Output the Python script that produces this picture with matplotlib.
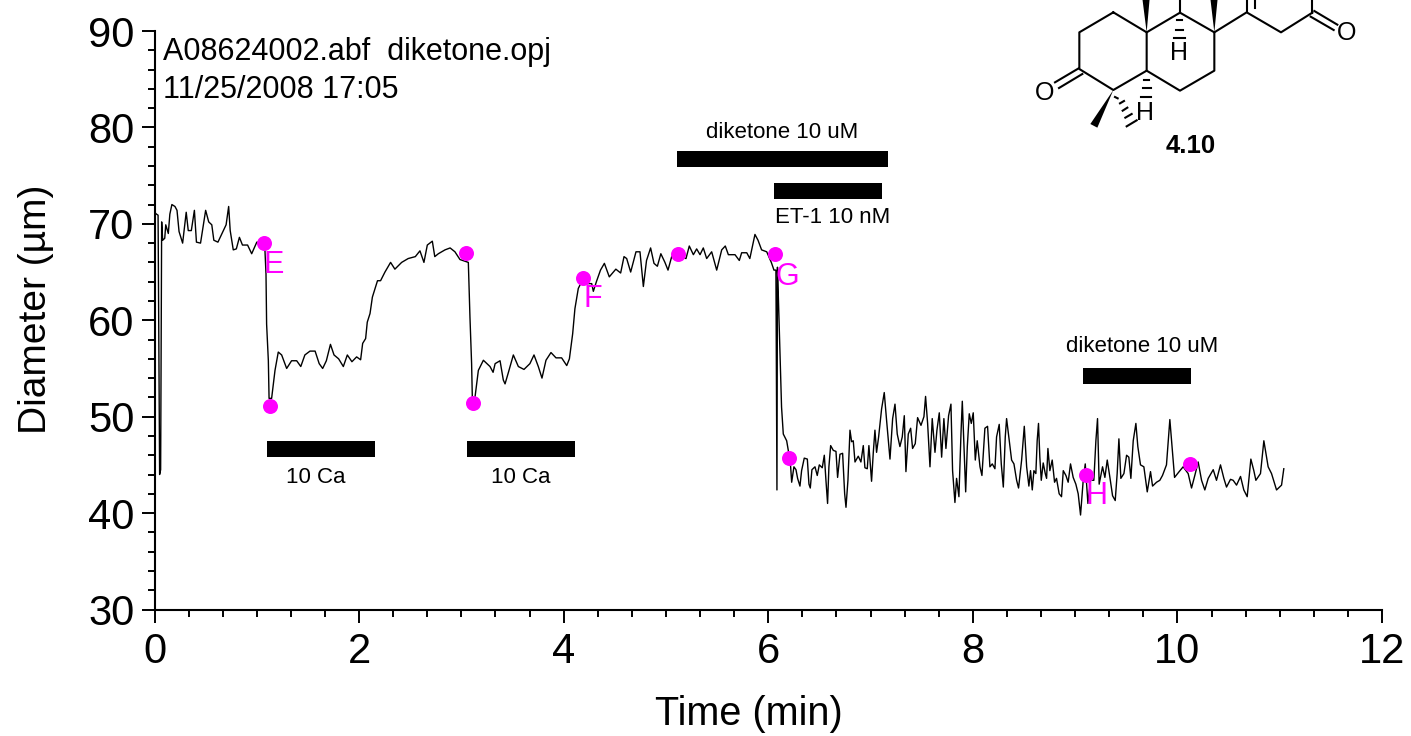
#!/usr/bin/env python3
"""Diameter trace of an artery segment with the drawn structure of compound 4.10."""

import matplotlib
matplotlib.use('Agg')
import matplotlib.pyplot as plt
from matplotlib.ticker import MultipleLocator
from matplotlib.patches import Polygon

plt.rcParams['font.family'] = ['Liberation Sans', 'DejaVu Sans']

time_min = [
    0.00, 0.02, 0.035, 0.05, 0.06, 0.07, 0.08, 0.10, 0.11, 0.135, 0.15, 0.17, 0.20, 0.22, 0.24, 0.275,
    0.31, 0.33, 0.36, 0.39, 0.41, 0.45, 0.50, 0.53, 0.56, 0.58, 0.62, 0.66, 0.70, 0.725, 0.74, 0.77,
    0.80, 0.83, 0.86, 0.91, 0.95, 1.00, 1.05, 1.08, 1.09, 1.096, 1.113, 1.12, 1.145, 1.178, 1.21, 1.243,
    1.292, 1.34, 1.39, 1.43, 1.47, 1.52, 1.57, 1.61, 1.644, 1.68, 1.72, 1.755, 1.80, 1.846, 1.885, 1.93,
    1.976, 2.015, 2.035, 2.064, 2.08, 2.107, 2.13, 2.18, 2.21, 2.253, 2.308, 2.35, 2.416, 2.48, 2.55, 2.595,
    2.634, 2.667, 2.716, 2.74, 2.775, 2.84, 2.89, 2.937, 2.986, 3.068, 3.084, 3.10, 3.107, 3.133, 3.166, 3.215,
    3.28, 3.31, 3.33, 3.378, 3.41, 3.427, 3.46, 3.508, 3.557, 3.612, 3.67, 3.71, 3.752, 3.788, 3.827, 3.876,
    3.925, 3.98, 4.03, 4.056, 4.088, 4.11, 4.143, 4.176, 4.225, 4.274, 4.29, 4.32, 4.36, 4.398, 4.446, 4.51,
    4.557, 4.59, 4.616, 4.655, 4.707, 4.746, 4.779, 4.81, 4.85, 4.883, 4.916, 4.95, 4.99, 5.02, 5.056, 5.137,
    5.196, 5.228, 5.268, 5.30, 5.333, 5.365, 5.398, 5.447, 5.496, 5.545, 5.58, 5.61, 5.675, 5.717, 5.74, 5.79,
    5.82, 5.87, 5.90, 5.935, 5.985, 6.03, 6.056, 6.075, 6.085, 6.09, 6.10, 6.13, 6.147, 6.18,
    6.196, 6.219, 6.229, 6.251, 6.271, 6.287, 6.31, 6.326, 6.352, 6.382, 6.398, 6.411, 6.427, 6.457, 6.479, 6.499,
    6.528, 6.548, 6.564, 6.58, 6.593, 6.61, 6.636, 6.662, 6.678, 6.701, 6.727, 6.747, 6.76, 6.779, 6.799, 6.815,
    6.831, 6.848, 6.88, 6.906, 6.929, 6.945, 6.968, 6.984, 7.01, 7.027, 7.043, 7.059, 7.079, 7.108, 7.134, 7.157,
    7.19, 7.216, 7.239, 7.261, 7.287, 7.31, 7.33, 7.346, 7.369, 7.392, 7.411, 7.437, 7.46, 7.493, 7.522, 7.538,
    7.558, 7.581, 7.603, 7.63, 7.649, 7.672, 7.695, 7.717, 7.737, 7.763, 7.786, 7.802, 7.825, 7.841, 7.864, 7.884,
    7.897, 7.913, 7.93, 7.946, 7.965, 7.985, 8.004, 8.024, 8.043, 8.07, 8.089, 8.118, 8.144, 8.167, 8.19, 8.216,
    8.232, 8.258, 8.278, 8.298, 8.317, 8.33, 8.356, 8.379, 8.402, 8.428, 8.447, 8.477, 8.503, 8.526, 8.548, 8.564,
    8.581, 8.597, 8.616, 8.629, 8.642, 8.655, 8.669, 8.688, 8.708, 8.721, 8.734, 8.753, 8.776, 8.799, 8.818, 8.844,
    8.867, 8.884, 8.91, 8.932, 8.955, 8.981, 9.007, 9.03, 9.053, 9.079, 9.099, 9.125, 9.151, 9.183, 9.203, 9.219,
    9.235, 9.268, 9.291, 9.314, 9.34, 9.366, 9.392, 9.411, 9.428, 9.447, 9.477, 9.503, 9.525, 9.545, 9.568, 9.594,
    9.613, 9.639, 9.672, 9.705, 9.737, 9.757, 9.796, 9.828, 9.854, 9.893, 9.926, 9.952, 9.972, 10.017, 10.056, 10.105,
    10.138, 10.17, 10.203, 10.236, 10.268, 10.301, 10.35, 10.382, 10.421, 10.454, 10.48, 10.519, 10.545, 10.578, 10.617, 10.649,
    10.682, 10.718, 10.747, 10.767, 10.812, 10.845, 10.887, 10.92, 10.969, 11.018, 11.04,
]

diameter_um = [
    71.2, 71.0, 70.9, 44.0, 44.5, 70.2, 68.3, 68.5, 69.9, 69.0, 71.0, 72.0, 71.8, 71.4, 69.2, 68.0,
    71.2, 69.3, 69.3, 71.4, 68.1, 68.0, 71.4, 70.2, 69.9, 68.3, 68.1, 69.0, 69.9, 71.8, 69.3, 67.3,
    67.4, 68.6, 67.8, 67.8, 66.9, 68.1, 68.1, 67.2, 64.8, 59.6, 55.8, 51.9, 51.9, 54.8, 56.7, 56.4,
    55.0, 55.8, 55.8, 55.2, 56.4, 56.8, 56.8, 55.5, 55.0, 55.8, 57.5, 56.4, 56.0, 55.2, 56.4, 55.7,
    56.2, 55.9, 57.6, 58.1, 59.8, 60.7, 62.4, 64.1, 64.1, 65.0, 66.0, 65.3, 66.0, 66.4, 66.6, 67.2,
    66.0, 67.8, 68.2, 66.6, 66.9, 67.3, 67.5, 67.1, 66.3, 66.0, 60.3, 55.5, 52.0, 52.0, 54.8, 55.85,
    55.2, 54.6, 55.5, 55.8, 53.8, 53.4, 54.6, 56.4, 55.2, 54.9, 55.5, 56.4, 55.2, 54.0, 55.85, 56.65,
    56.1, 56.1, 55.3, 56.0, 58.6, 61.2, 63.3, 64.0, 63.8, 63.8, 63.0, 64.0, 65.2, 65.9, 64.5, 65.3,
    64.9, 66.6, 66.4, 65.0, 67.1, 67.1, 63.5, 66.2, 67.5, 65.9, 65.6, 66.9, 66.0, 65.2, 66.6, 66.6,
    66.4, 67.7, 66.8, 67.4, 66.8, 67.5, 66.4, 67.1, 65.2, 67.3, 67.7, 66.8, 66.8, 66.2, 67.0, 67.0,
    66.4, 68.9, 68.3, 67.3, 67.1, 66.0, 65.2, 65.2, 42.4, 65.5, 62.0, 51.0, 48.2, 47.5,
    46.5, 44.8, 43.2, 44.8, 44.5, 43.6, 42.8, 44.4, 45.7, 45.6, 43.0, 42.6, 44.5, 44.8, 43.9, 45.0,
    44.7, 46.0, 43.4, 41.0, 44.8, 47.0, 46.5, 46.4, 43.7, 46.1, 46.2, 42.0, 40.6, 43.4, 48.6, 47.4,
    47.5, 45.3, 45.9, 45.3, 47.0, 44.7, 44.6, 47.0, 43.3, 46.3, 48.6, 46.3, 47.9, 50.8, 52.5, 49.6,
    45.6, 49.8, 51.3, 48.2, 46.9, 47.9, 50.1, 44.3, 48.2, 48.8, 46.7, 47.2, 49.9, 49.1, 50.0, 52.1,
    49.3, 44.8, 49.8, 46.3, 48.6, 50.4, 45.8, 49.8, 46.7, 50.1, 51.3, 44.4, 41.1, 43.6, 41.7, 48.2,
    51.6, 46.9, 42.2, 46.9, 50.3, 49.3, 50.4, 45.5, 47.5, 44.8, 43.9, 48.8, 49.0, 44.8, 45.1, 44.6,
    47.9, 49.2, 45.1, 42.7, 47.9, 49.8, 47.5, 45.5, 45.1, 43.4, 42.6, 45.5, 49.0, 44.8, 42.8, 44.4,
    42.4, 44.4, 44.1, 47.5, 49.3, 45.8, 43.4, 45.2, 44.1, 43.6, 46.7, 44.4, 45.5, 43.2, 43.6, 42.0,
    41.7, 44.4, 43.9, 43.2, 45.1, 43.7, 43.0, 42.0, 39.8, 43.4, 45.1, 41.0, 43.4, 43.4, 47.5, 49.8,
    43.0, 44.8, 43.7, 45.5, 43.7, 41.8, 41.3, 44.1, 47.7, 43.6, 44.1, 46.0, 45.8, 43.6, 47.5, 49.3,
    46.9, 45.0, 44.8, 42.2, 44.3, 42.8, 43.2, 43.4, 43.9, 45.0, 49.7, 46.3, 43.7, 44.3, 44.8, 44.1,
    42.6, 43.9, 45.3, 43.4, 42.4, 43.6, 44.5, 43.4, 45.0, 43.6, 42.7, 43.5, 43.4, 42.9, 43.8, 42.4,
    41.7, 45.6, 44.4, 43.4, 44.1, 47.5, 44.8, 44.1, 42.4, 42.9, 44.6,
]

point_time = [1.074, 1.132, 3.045, 3.117, 4.19, 5.12, 6.07, 6.20, 9.105, 10.12]
point_diam = [68.0, 51.1, 67.0, 51.4, 64.43, 66.9, 66.85, 45.67, 44.0, 45.05]

letter_labels = ['E', 'F', 'G', 'H']
letter_time = [1.07, 4.19, 6.075, 9.105]
letter_diam = [64.88, 61.35, 63.63, 40.9]

bar_start = [1.10, 3.056, 5.11, 6.06, 9.078]
bar_stop = [2.156, 4.112, 7.17, 7.112, 10.134]
bar_diam = [46.6, 46.6, 76.7, 73.4, 54.24]

bar_labels = ['10 Ca', '10 Ca', 'diketone 10 uM', 'diketone 10 uM']
bar_label_time = [1.58, 3.583, 6.134, 9.653]
bar_label_diam = [43.1, 43.1, 78.9, 56.7]

# molecule outline, in the units of its own little axes
mol_bonds = [
    [(280, 37), (178, 97), (178, 207), (280, 270), (380, 212), (380, 97), (280, 37)],
    [(380, 97), (480, 38), (583, 97), (583, 212), (480, 272), (380, 212)],
    [(583, 97), (680, 37), (783, 97), (877, 38)],
    [(480, -5), (480, 38)],
    [(680, -5), (680, 37)],
    [(704, -5), (704, 24)],
    [(877, -5), (877, 38)],
    [(883, 33), (952, 74)],
    [(872, 50), (941, 90)],
    [(176, 205), (105, 247)],
    [(187, 222), (117, 264)],
]
mol_wedges = [
    [(380, 97), (367, -5), (389, -5)],
    [(583, 97), (571, -5), (593, -5)],
    [(280, 270), (211, 372), (232, 383)],
]
mol_hashes = [
    [(471, 60), (485, 60)], [(467, 90), (490, 90)], [(462, 115), (495, 115)],
    [(372, 240), (388, 240)], [(368, 265), (392, 265)], [(362, 292), (392, 292)],
    [(285, 291), (293, 295)], [(300, 310), (312, 303)], [(308, 332), (322, 323)],
    [(316, 353), (335, 342)], [(320, 379), (350, 361)],
]
mol_labels = ['O', 'O', 'H', 'H']
mol_label_x = [75, 980, 478, 375]
mol_label_y = [278, 100, 160, 338]

fig = plt.figure(figsize=(14.11, 7.36), dpi=100)
ax = fig.add_axes([154.5 / 1411, 126.5 / 736, 1227.5 / 1411, 578.5 / 736])

ax.plot(time_min, diameter_um, color='black', lw=1.0, zorder=2)
ax.plot(point_time, point_diam, ls='none', marker='o', ms=10.8, mfc='#FF00FF', mec='#FF00FF', mew=0, zorder=3)
for lab, t, d in zip(letter_labels, letter_time, letter_diam):
    ax.text(t, d, lab, color='#FF00FF', fontsize=22, ha='left', va='baseline', zorder=4)

for start, stop, d in zip(bar_start, bar_stop, bar_diam):
    ax.barh(d, stop - start, height=1.66, left=start, color='black', zorder=2)
for lab, t, d in zip(bar_labels, bar_label_time, bar_label_diam):
    ax.text(t, d, lab, fontsize=16, ha='center', va='baseline')
ax.text(6.065, 70.07, 'ET-1 10 nM', fontsize=16, ha='left', va='baseline')

ax.text(0.083, 86.99, 'A08624002.abf  diketone.opj', fontsize=22, ha='left', va='baseline')
ax.text(0.083, 83.05, '11/25/2008 17:05', fontsize=22, ha='left', va='baseline')

ax.set_xlim(0, 12)
ax.set_ylim(30, 90)
ax.xaxis.set_major_locator(MultipleLocator(2))
ax.xaxis.set_minor_locator(MultipleLocator(1 / 3))
ax.yaxis.set_major_locator(MultipleLocator(10))
ax.yaxis.set_minor_locator(MultipleLocator(2))
ax.spines['top'].set_visible(False)
ax.spines['right'].set_visible(False)
ax.spines['left'].set_linewidth(1.5)
ax.spines['bottom'].set_linewidth(1.5)
ax.tick_params(which='major', length=9.4, width=1.4, labelsize=30, pad=5)
ax.tick_params(axis='x', which='major', pad=7)
ax.tick_params(which='minor', length=5, width=1.4)
ax.set_xlabel('Time (min)', fontsize=28.5)
ax.set_ylabel('Diameter (µm)', fontsize=28)
ax.xaxis.set_label_coords((749 - 154.5) / 1227.5, -(714 - 609.5) / 578.5)
ax.xaxis.label.set_va('center')
ax.yaxis.set_label_coords(-(154.5 - 36) / 1227.5, (609.5 - 309) / 578.5)
ax.yaxis.label.set_va('center')

# molecule sits in the upper right corner, cut off by the top of the page
mol = fig.add_axes([1020 / 1411, 566 / 736, 350 / 1411, 170 / 736])
mol.set_xlim(0, 1050)
mol.set_ylim(510, 0)
mol.axis('off')
for pts in mol_bonds + mol_hashes:
    mol.plot([p[0] for p in pts], [p[1] for p in pts], color='black', lw=1.5,
             solid_joinstyle='round', clip_on=True)
for pts in mol_wedges:
    mol.add_patch(Polygon(pts, closed=True, color='black', lw=0))
for lab, x, y in zip(mol_labels, mol_label_x, mol_label_y):
    mol.text(x, y, lab, fontsize=18, ha='center', va='center')
mol.text(513, 437, '4.10', fontsize=18.5, fontweight='bold', ha='center', va='center')

fig.savefig('out.png', dpi=100)
